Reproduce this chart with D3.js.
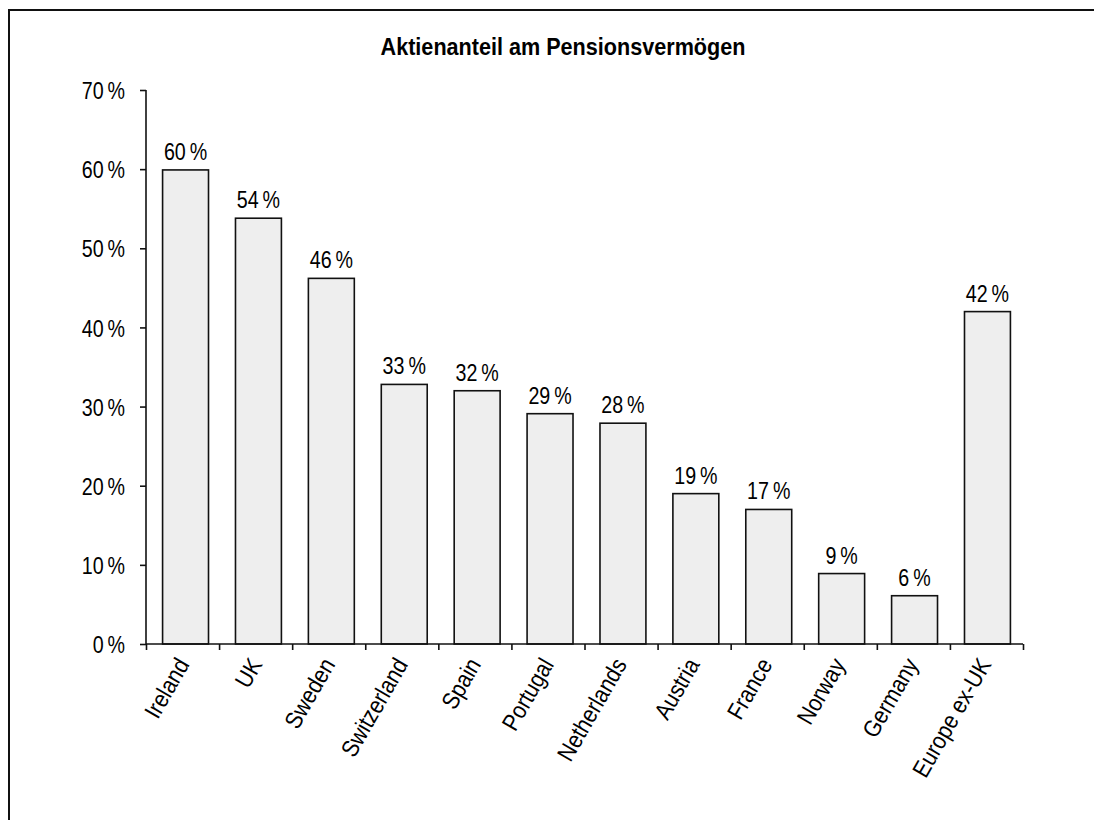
<!DOCTYPE html>
<html>
<head>
<meta charset="utf-8">
<script src="https://cdn.jsdelivr.net/npm/d3@7"></script>
<style>
  body { margin: 0; background: #fff; }
  text { font-family: "Liberation Sans", Arial, sans-serif; fill: #000; }
</style>
</head>
<body>
<div class="chart"></div>
<script>
var countries = ["Ireland", "UK", "Sweden", "Switzerland", "Spain", "Portugal",
                 "Netherlands", "Austria", "France", "Norway", "Germany", "Europe ex-UK"];
var shares = [59.9, 53.8, 46.2, 32.8, 32.0, 29.1, 27.9, 19.0, 17.0, 8.9, 6.1, 42.0];
var yTicks = [0, 10, 20, 30, 40, 50, 60, 70];
var title = "Aktienanteil am Pensionsvermögen";

var svgWidth = 1094;
var svgHeight = 820;
var margin = {top: 90, right: 71, bottom: 176, left: 146};
var width = svgWidth - margin.left - margin.right;
var height = svgHeight - margin.top - margin.bottom;
// no narrow font installed, so squeeze Liberation Sans to look like Arial Narrow
var narrow = 0.82;

var root = d3.select(".chart")
    .append("svg")
    .attr("width", svgWidth)
    .attr("height", svgHeight);

// outer frame (bottom and right run off the picture)
root.append("rect")
    .attr("x", 9)
    .attr("y", 10)
    .attr("width", 1100)
    .attr("height", 830)
    .attr("fill", "none")
    .attr("stroke", "#111")
    .attr("stroke-width", 2);

root.append("text")
    .attr("transform", "translate(563,55) scale(0.9,1)")
    .attr("text-anchor", "middle")
    .attr("font-size", "24px")
    .attr("font-weight", "bold")
    .text(title);

var svg = root.append("g")
    .attr("transform", "translate(" + margin.left + "," + margin.top + ")");

var xScale = d3.scaleBand().domain(countries).range([2, width + 2]).paddingInner(0.37).paddingOuter(0.2);
var xTickScale = d3.scaleLinear().domain([0, countries.length]).range([0, width]);
var yScale = d3.scaleLinear().domain([0, 70]).range([height, 0]);

var fmt = function(v) { return Math.round(v) + "\u2009%"; };

// bars
svg.selectAll(".bar")
    .data(shares)
    .enter()
    .append("rect")
    .attr("class", "bar")
    .attr("x", function(d, i) { return xScale(countries[i]); })
    .attr("y", function(d) { return yScale(d); })
    .attr("width", xScale.bandwidth())
    .attr("height", function(d) { return height - yScale(d); })
    .attr("fill", "#eeeeee")
    .attr("stroke", "#111")
    .attr("stroke-width", 1.6);

// value labels
svg.selectAll(".val")
    .data(shares)
    .enter()
    .append("text")
    .attr("class", "val")
    .attr("transform", function(d, i) {
        var cx = xScale(countries[i]) + xScale.bandwidth() / 2;
        return "translate(" + cx + "," + (yScale(d) - 10) + ") scale(" + narrow + ",1)";
    })
    .attr("text-anchor", "middle")
    .attr("font-size", "24px")
    .text(fmt);

// y axis
var leftAxis = d3.axisLeft(yScale)
    .tickValues(yTicks)
    .tickSize(6)
    .tickFormat(fmt);
var yAxisG = svg.append("g").call(leftAxis);
yAxisG.select(".domain").attr("stroke", "#111").attr("stroke-width", 1.6).attr("d", "M0," + height + "V0");
yAxisG.selectAll(".tick line").attr("stroke", "#111").attr("stroke-width", 1.6);
yAxisG.selectAll(".tick text")
    .attr("font-size", "24px")
    .attr("font-family", null)
    .attr("x", -21 / narrow)
    .attr("dy", "0.36em")
    .attr("transform", "scale(" + narrow + ",1)");

// x axis: ticks at category boundaries
var bottomAxis = d3.axisBottom(xTickScale)
    .tickValues(d3.range(countries.length + 1))
    .tickSize(6)
    .tickFormat("");
var xAxisG = svg.append("g")
    .attr("transform", "translate(0," + height + ")")
    .call(bottomAxis);
xAxisG.select(".domain").attr("stroke", "#111").attr("stroke-width", 1.6).attr("d", "M0,0H" + width);
xAxisG.selectAll(".tick line").attr("stroke", "#111").attr("stroke-width", 1.6);

// rotated category labels
svg.selectAll(".cat")
    .data(countries)
    .enter()
    .append("text")
    .attr("class", "cat")
    .attr("transform", function(d) {
        var cx = xScale(d) + xScale.bandwidth() / 2 - 3;
        return "translate(" + cx + "," + (height + 16) + ") rotate(-60) scale(0.88,1)";
    })
    .attr("text-anchor", "end")
    .attr("dy", "0.36em")
    .attr("font-size", "24px")
    .text(function(d) { return d; });
</script>
</body>
</html>
